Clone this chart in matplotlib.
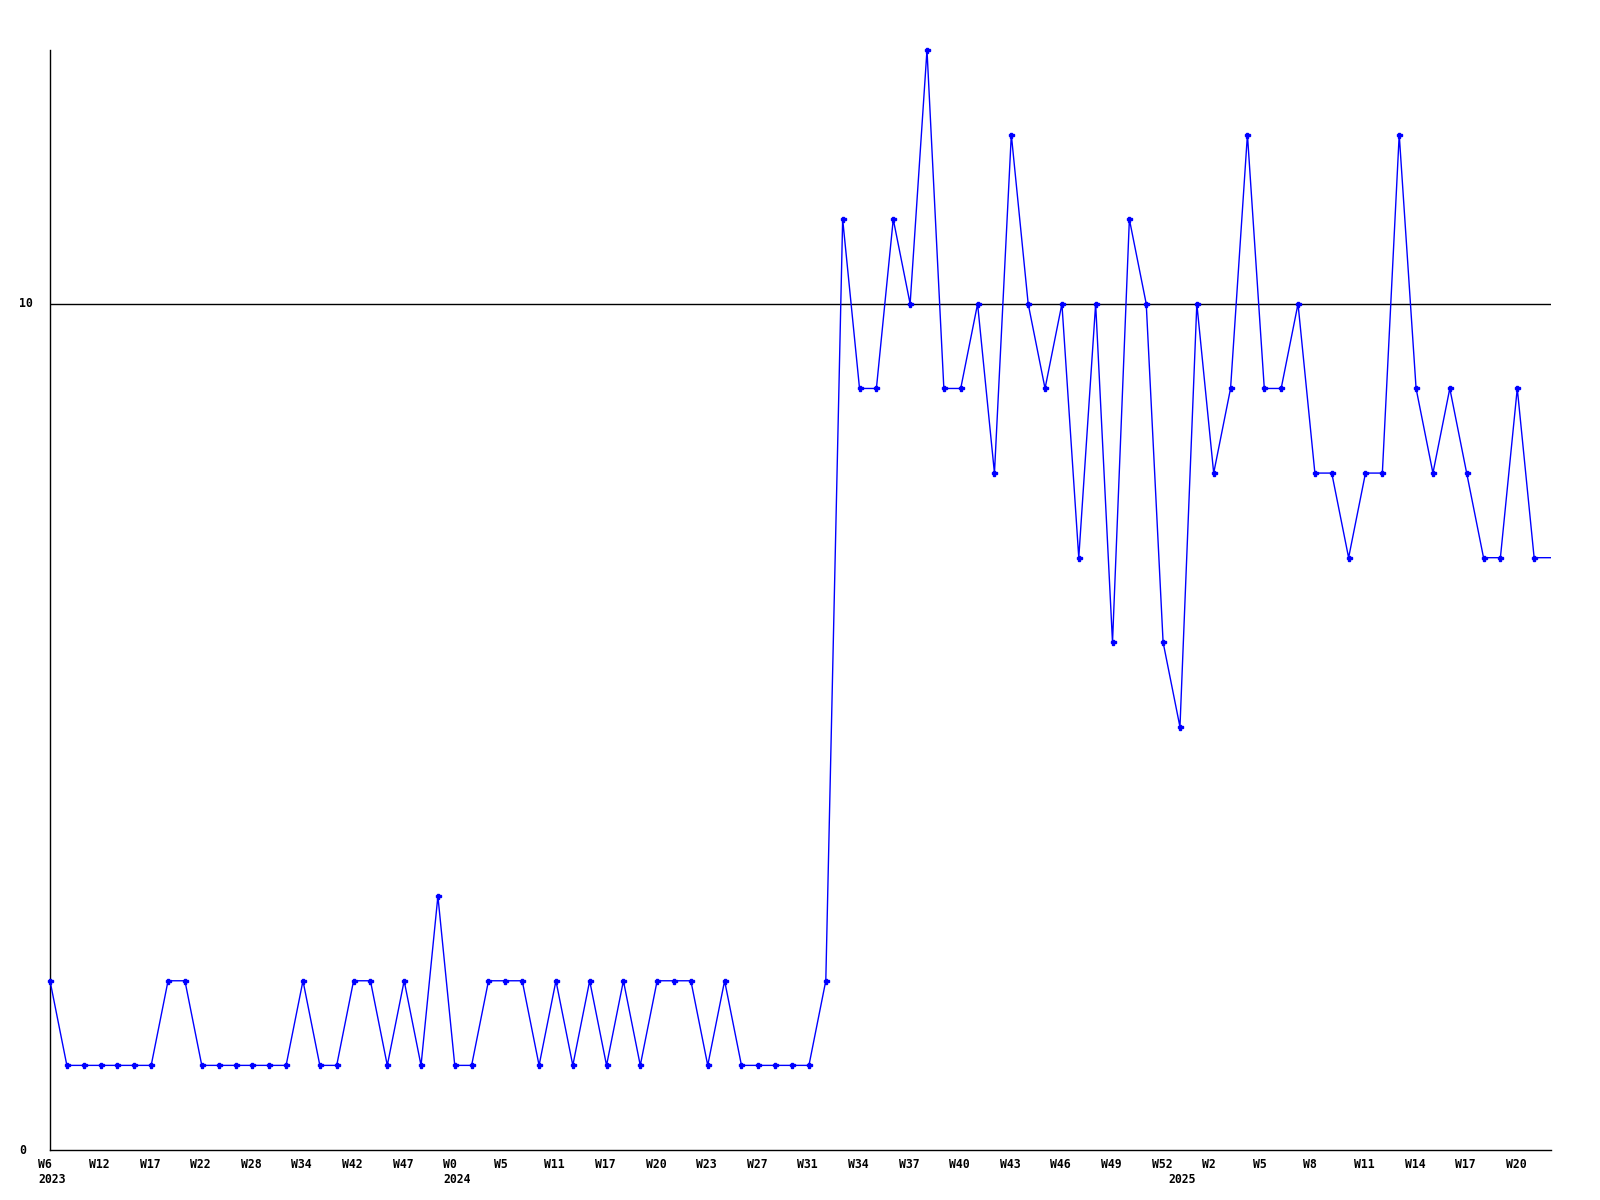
import numpy as np
import matplotlib
matplotlib.use('Agg')
import matplotlib.pyplot as plt
from matplotlib.transforms import blended_transform_factory

# weekly counts, one per sample (last one is the running week, no marker)
values = [2, 1, 1, 1, 1, 1, 1, 2, 2, 1, 1, 1, 1, 1, 1, 2, 1, 1, 2, 2,
          1, 2, 1, 3, 1, 1, 2, 2, 2, 1, 2, 1, 2, 1, 2, 1, 2, 2, 2, 1,
          2, 1, 1, 1, 1, 1, 2, 11, 9, 9, 11, 10, 13, 9, 9, 10, 8, 12, 10, 9,
          10, 7, 10, 6, 11, 10, 6, 5, 10, 8, 9, 12, 9, 9, 10, 8, 8, 7, 8, 8,
          12, 9, 8, 9, 8, 7, 7, 9, 7, 7]

week_labels = ['W6', 'W12', 'W17', 'W22', 'W28', 'W34', 'W42', 'W47', 'W0', 'W5',
               'W11', 'W17', 'W20', 'W23', 'W27', 'W31', 'W34', 'W37', 'W40', 'W43',
               'W46', 'W49', 'W52', 'W2', 'W5', 'W8', 'W11', 'W14', 'W17', 'W20']
week_label_idx = list(range(0, 90, 3))

year_labels = ['2023', '2024', '2025']
year_label_idx = [0, 24, 67]

y_ticks = [0, 10]

font = dict(family='DejaVu Sans Mono', weight='bold', size=8.3)

fig = plt.figure(figsize=(16, 12), dpi=100)
ax = fig.add_axes([50 / 1600, 50 / 1200, 1501 / 1600, 1100 / 1200])

x = np.arange(len(values))
ax.plot(x, values, color='#0000ff', lw=1.0, zorder=3)
ax.plot(x[:-1], values[:-1], ls='none', marker='P', ms=3.6,
        color='#0000ff', zorder=4, clip_on=False)

ax.axhline(10, color='black', lw=1, zorder=2)

ax.set_xlim(0, len(values) - 1)
ax.set_ylim(0, 13)

for s in ['top', 'right']:
    ax.spines[s].set_visible(False)
for s in ['left', 'bottom']:
    ax.spines[s].set_color('black')
    ax.spines[s].set_linewidth(1)

ax.set_xticks([])
ax.set_yticks([])

# x labels, left aligned a bit before each point
for i, lab in zip(week_label_idx, week_labels):
    ax.annotate(lab, xy=(i, 0), xycoords=('data', 'axes fraction'),
                xytext=(-8.3, -5.6), textcoords='offset points',
                ha='left', va='top', **font)
for i, lab in zip(year_label_idx, year_labels):
    ax.annotate(lab, xy=(i, 0), xycoords=('data', 'axes fraction'),
                xytext=(-8.3, -16.4), textcoords='offset points',
                ha='left', va='top', **font)

# y labels sit at the left edge of the figure
trans = blended_transform_factory(fig.transFigure, ax.transData)
for v in y_ticks:
    ax.text(19.5 / 1600, v, str(v), transform=trans, ha='left', va='center', **font)

fig.savefig('out.png', dpi=100)
